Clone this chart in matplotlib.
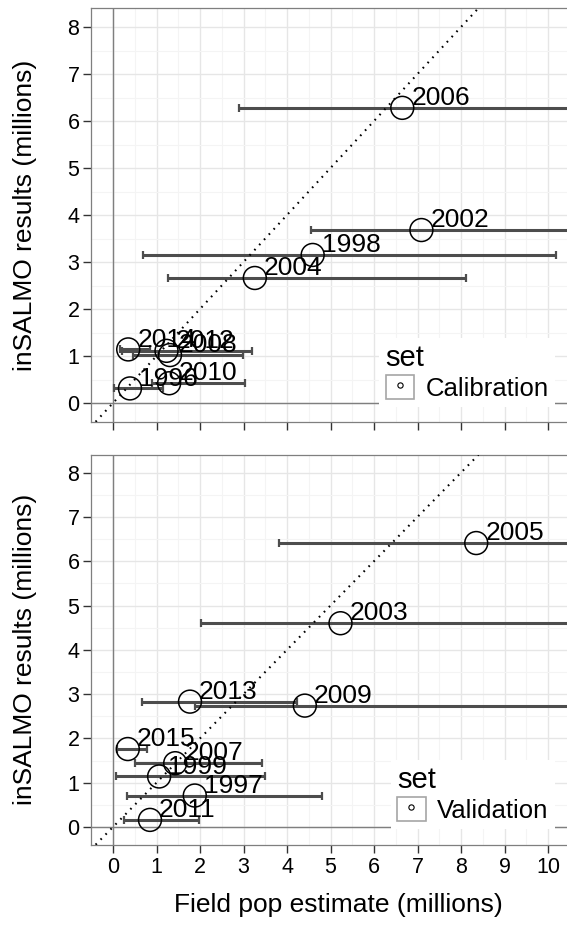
import numpy as np
import matplotlib
matplotlib.use("Agg")
import matplotlib.pyplot as plt
from matplotlib.ticker import MultipleLocator
from matplotlib.patches import Rectangle
from matplotlib.lines import Line2D
from matplotlib.legend_handler import HandlerTuple

plt.rcParams['font.family'] = ['Liberation Sans', 'DejaVu Sans']

# calibration years (top panel)
cal_years = ["1996", "1998", "2002", "2004", "2006", "2008", "2010", "2012", "2014"]
cal_field = np.array([0.39, 4.59, 7.09, 3.26, 6.65, 1.31, 1.29, 1.23, 0.35])
cal_model = np.array([0.31, 3.15, 3.68, 2.66, 6.28, 1.02, 0.42, 1.11, 1.14])
cal_low = np.array([0.02, 0.69, 4.56, 1.26, 2.89, 0.46, 0.90, 0.20, 0.15])
cal_high = np.array([1.15, 10.18, 12.0, 8.12, 12.5, 2.99, 3.03, 3.19, 0.85])

# validation years (bottom panel)
val_years = ["1997", "1999", "2003", "2005", "2007", "2009", "2011", "2013", "2015"]
val_field = np.array([1.88, 1.06, 5.23, 8.35, 1.43, 4.41, 0.85, 1.77, 0.34])
val_model = np.array([0.71, 1.14, 4.60, 6.41, 1.44, 2.74, 0.16, 2.83, 1.76])
val_low = np.array([0.33, 0.07, 2.03, 3.81, 0.51, 1.89, 0.26, 0.67, 0.09])
val_high = np.array([4.80, 3.49, 12.0, 13.0, 3.42, 11.5, 1.98, 4.22, 0.79])

x_ticks = list(range(0, 11))
y_ticks = list(range(0, 9))

W, H = 567, 926
fig = plt.figure(figsize=(W / 100, H / 100), dpi=100)

# panel placement in pixels: left, right, top, bottom
left_px, right_px = 91.25, 569.75
ax_top = fig.add_axes([left_px / W, 1 - 421.8 / H, (right_px - left_px) / W, (421.8 - 8.2) / H])
ax_bot = fig.add_axes([left_px / W, 1 - 844.7 / H, (right_px - left_px) / W, (844.7 - 454.9) / H])


def draw_panel(ax, years, field, model, low, high, set_name, leg_y):
    ax.set_facecolor("white")
    ax.set_xlim(-0.5, 10.5)
    ax.set_ylim(-0.4, 8.4)
    ax.set_xticks(x_ticks)
    ax.set_yticks(y_ticks)
    ax.xaxis.set_minor_locator(MultipleLocator(0.5))
    ax.yaxis.set_minor_locator(MultipleLocator(0.5))
    ax.grid(which="major", color="#e6e6e6", linewidth=1.0, zorder=0)
    ax.grid(which="minor", color="#f4f4f4", linewidth=0.8, zorder=0)
    ax.set_axisbelow(True)
    for sp in ax.spines.values():
        sp.set_color("#7f7f7f")
        sp.set_linewidth(0.9)
    ax.tick_params(which="major", length=5.5, width=1.0, color="#333333",
                   labelsize=15.5, pad=3)
    ax.tick_params(which="minor", length=0)

    ax.axhline(0, color="#7f7f7f", linewidth=1.0, zorder=1)
    ax.axvline(0, color="#7f7f7f", linewidth=1.0, zorder=1)

    ax.errorbar(field, model, xerr=[field - low, high - field], fmt="none",
                ecolor="#4d4d4d", elinewidth=2.2, capsize=2.9, capthick=1.6, zorder=2)
    ax.axline((0, 0), slope=1, color="black", linewidth=1.5,
              linestyle=(0, (0.8, 2.6)), zorder=3)
    ax.scatter(field, model, s=16.5 ** 2, facecolors="none", edgecolors="black",
               linewidths=1.1, zorder=4)
    for yr, fx, my in zip(years, field, model):
        ax.annotate(yr, (fx, my), xytext=(6.5, 2), textcoords="offset points",
                    ha="left", va="baseline", fontsize=19, zorder=5)

    key_box = Rectangle((0, 0), 1, 1, facecolor="white", edgecolor="#a6a6a6", linewidth=1.2)
    key_dot = Line2D([], [], marker="o", linestyle="none", markersize=3.8,
                     markerfacecolor="none", markeredgecolor="black", markeredgewidth=0.8)
    ax.legend([(key_box, key_dot)], [set_name], title="set", loc="lower right",
              bbox_to_anchor=(0.969, leg_y),
              handler_map={tuple: HandlerTuple(ndivide=1, pad=0)},
              handlelength=1.1, handleheight=1.1, handletextpad=0.45,
              fontsize=18.5, title_fontsize=21, frameon=True, framealpha=1,
              edgecolor="none", fancybox=False, borderpad=0.25, borderaxespad=0,
              labelspacing=0.1, alignment="left")

    ax.set_ylabel("inSALMO results (millions)", fontsize=19, va="center")
    ax.yaxis.set_label_coords((25 - left_px) / (right_px - left_px), 0.5)


draw_panel(ax_top, cal_years, cal_field, cal_model, cal_low, cal_high, "Calibration", 0.035)
draw_panel(ax_bot, val_years, val_field, val_model, val_low, val_high, "Validation", 0.04)

ax_top.tick_params(axis="x", labelbottom=False)
ax_bot.set_xlabel("Field pop estimate (millions)", fontsize=19, va="center")
ax_bot.xaxis.set_label_coords((338 - left_px) / (right_px - left_px), (844.7 - 905) / (844.7 - 454.9))

fig.savefig("out.png", dpi=100)
